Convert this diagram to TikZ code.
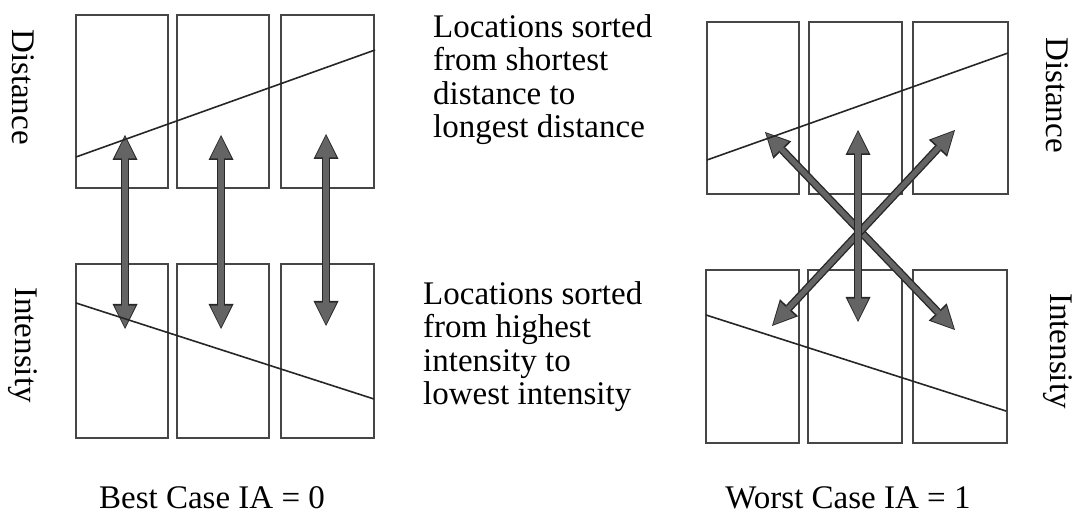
\documentclass[tikz,border=0pt]{standalone}
\usepackage{fontspec}
\setmainfont{Liberation Serif}
\usetikzlibrary{arrows.meta}
\definecolor{boxclr}{RGB}{70,70,70}
\definecolor{arrline}{RGB}{40,40,40}
\definecolor{arrfill}{RGB}{100,100,100}
\tikzset{
  cell/.style={draw=boxclr,line width=1.3pt},
  trend/.style={draw=black!85,line width=1.6pt},
  fat/.style={line width=8pt,draw=arrline,
    {Triangle[length=25pt,width=25pt,line width=0pt]}-{Triangle[length=25pt,width=25pt,line width=0pt]},
    postaction={draw=arrfill,line width=5.2pt,shorten <=1.8pt,shorten >=1.8pt,
      {Triangle[length=21.5pt,width=21pt,line width=0pt]}-{Triangle[length=21.5pt,width=21pt,line width=0pt]}}},
  sidelbl/.style={rotate=-90,inner sep=0pt,font=\fontsize{33}{30}\selectfont},
  note/.style={align=left,inner sep=0pt,anchor=north west,font=\fontsize{33}{33.5}\selectfont},
  caption/.style={anchor=base,inner sep=0pt,font=\fontsize{33}{30}\selectfont},
}
\begin{document}
\begin{tikzpicture}[x=1pt,y=-1pt]
\useasboundingbox (0,0) rectangle (1076,518);

% best case
\draw[cell] (76,15) rectangle (168,188);
\draw[cell] (177,15) rectangle (269,188);
\draw[cell] (281,15) rectangle (374,188);
\draw[cell] (76,264) rectangle (168,438);
\draw[cell] (177,264) rectangle (269,438);
\draw[cell] (281,264) rectangle (374,438);
\coordinate (bd1) at (125,135); \coordinate (bi1) at (125,329);
\coordinate (bd2) at (221,135); \coordinate (bi2) at (221,329);
\coordinate (bd3) at (326,134); \coordinate (bi3) at (326,326);
\draw[fat] (bd1) -- (bi1);
\draw[fat] (bd2) -- (bi2);
\draw[fat] (bd3) -- (bi3);
\draw[trend] (76,157) -- (375,50);
\draw[trend] (76,303) -- (374,399);

% worst case
\draw[cell] (707,22) rectangle (799,194);
\draw[cell] (809,22) rectangle (902,194);
\draw[cell] (913,22) rectangle (1008,194);
\draw[cell] (706,270) rectangle (799,443);
\draw[cell] (808,270) rectangle (902,443);
\draw[cell] (913,270) rectangle (1007,443);
\coordinate (wd1) at (765,132); \coordinate (wi3) at (955,330);
\coordinate (wd3) at (955,130); \coordinate (wi1) at (772,326);
\coordinate (wd2) at (858,130); \coordinate (wi2) at (858,322);
\draw[fat] (wd1) -- (wi3);
\draw[fat] (wd3) -- (wi1);
\draw[fat] (wd2) -- (wi2);
\draw[trend] (707,160) -- (1008,53);
\draw[trend] (706,315) -- (1006,411);

% labels
\node[sidelbl] (distL) at (23,87) {Distance};
\node[sidelbl] (intL) at (23,345) {Intensity};
\node[sidelbl] (distR) at (1057,95) {Distance};
\node[sidelbl] (intR) at (1058,351) {Intensity};
\node[note] (sortD) at (433,14) {Locations sorted\\from shortest\\distance to\\longest distance};
\node[note] (sortI) at (423,281) {Locations sorted\\from highest\\intensity to\\lowest intensity};
\node[caption] (best) at (212,508) {Best Case IA = 0};
\node[caption] (worst) at (848,508) {Worst Case IA = 1};
\end{tikzpicture}
\end{document}
